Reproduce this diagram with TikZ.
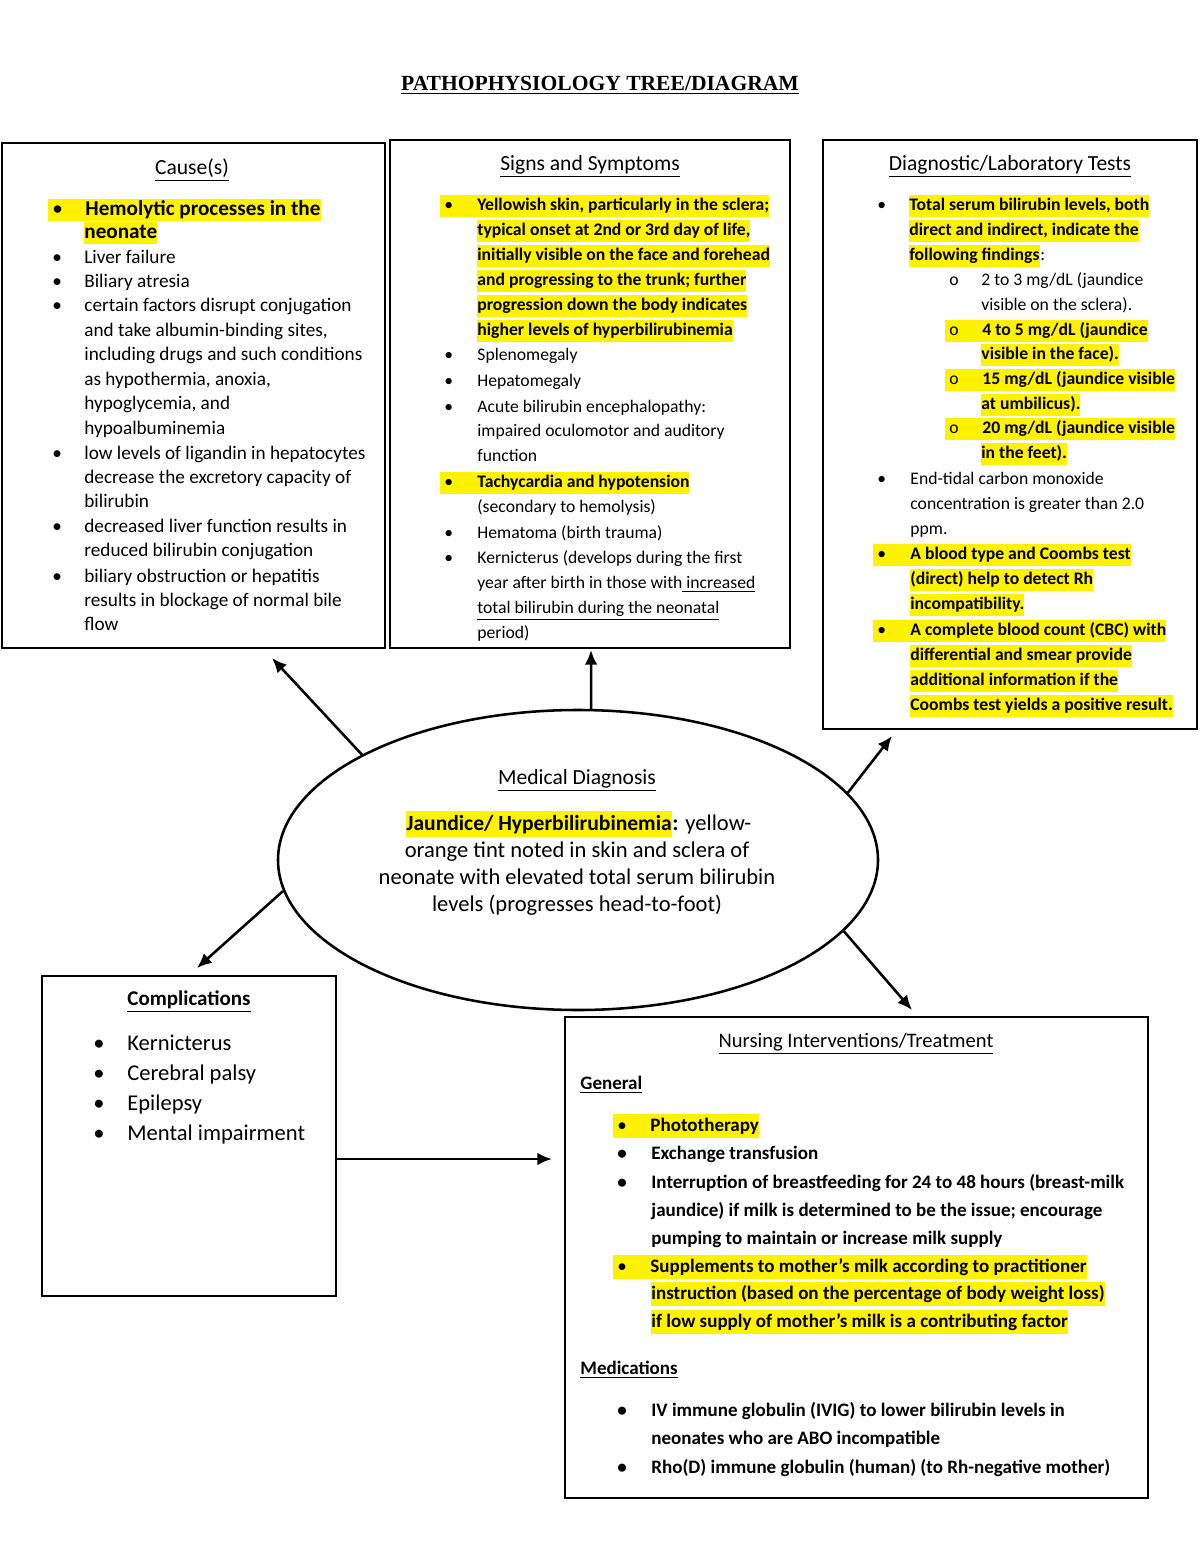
\documentclass[tikz,border=0pt]{standalone}
\usepackage{fontspec}
\setmainfont{Carlito}
\newfontfamily\titlefont{Liberation Serif}
\usetikzlibrary{arrows.meta, shapes.geometric, positioning, fit}

% bullet that sits inside a highlighted line
\newcommand{\hb}[1][\textbullet]{\makebox[18.9pt][l]{\hspace{2pt}\mdseries#1}}

\tikzset{
    box/.style={draw, line width=1.5pt, inner sep=0pt},
    arr/.style={-{Latex[length=7.5pt, width=6.5pt]}, line width=1.3pt},
    ln/.style={anchor=west, inner sep=0pt, text height=8pt, text depth=3pt, yshift=-1pt},
    hl/.style={ln, fill=yellow},
    mid/.style={ln, anchor=center},
    head/.style={font=\fontsize{11}{13}\selectfont, text height=8.5pt},
    causeTxt/.style={font=\fontsize{9.8}{12}\selectfont},
    causeB/.style={font=\fontsize{10.8}{12}\selectfont\bfseries, text height=8.3pt},
    signTxt/.style={font=\fontsize{9}{11}\selectfont},
    signB/.style={font=\fontsize{9}{11}\selectfont\bfseries},
    testTxt/.style={font=\fontsize{9}{11}\selectfont},
    testB/.style={font=\fontsize{9}{11}\selectfont\bfseries},
    diagTxt/.style={font=\fontsize{11.5}{14}\selectfont, text height=10pt, text depth=3.5pt},
    diagB/.style={font=\fontsize{11}{14}\selectfont\bfseries, text height=10pt, text depth=3.5pt},
    compTxt/.style={font=\fontsize{11.5}{14}\selectfont, text height=9pt},
    compB/.style={font=\fontsize{10.7}{13}\selectfont\bfseries, text height=8.5pt},
    careB/.style={font=\fontsize{9.7}{12}\selectfont\bfseries, text height=9pt, text depth=3.3pt},
    careH/.style={font=\fontsize{10.5}{13}\selectfont, text height=8.5pt}
}

\begin{document}
\begin{tikzpicture}[x=0.51pt, y=-0.51pt]
    % Page
    \path[use as bounding box, fill=white] (0,0) rectangle (1200,1553);

    % Title
    \node[font=\titlefont\bfseries\fontsize{11}{13}\selectfont, yshift=-1pt] (title) at (600,83) {\underline{PATHOPHYSIOLOGY TREE/DIAGRAM}};

    % Cause(s)
    \node[box, fit={(2,143) (385,648)}] (cause) {};
    \node[mid, head] (causeT) at (192,167) {\underline{Cause(s)}};
    \node[hl, causeB] (c208) at (48,208) {\hb Hemolytic processes in the};
    \node[hl, causeB] (c231) at (84,231) {neonate};
    \foreach \y/\t in {257/Liver failure, 281/Biliary atresia, 305/certain factors disrupt conjugation,
        330/{and take albumin-binding sites,}, 354/including drugs and such conditions,
        379/{as hypothermia, anoxia,}, 403/{hypoglycemia, and}, 428/hypoalbuminemia,
        453/low levels of ligandin in hepatocytes, 477/decrease the excretory capacity of, 501/bilirubin,
        526/decreased liver function results in, 550/reduced bilirubin conjugation,
        576/biliary obstruction or hepatitis, 600/results in blockage of normal bile, 624/flow}
        \node[ln, causeTxt] (c\y) at (84,\y) {\t};
    \foreach \y in {257,281,305,453,526,576}
        \node[ln, causeTxt] (cb\y) at (52,\y) {\textbullet};

    % Signs and Symptoms
    \node[box, fit={(390,140) (790,648)}] (sign) {};
    \node[mid, head] (signT) at (590,163) {\underline{Signs and Symptoms}};
    \node[hl, signB] (s204) at (440,204) {\hb Yellowish skin, particularly in the sclera;};
    \foreach \y/\t in {229/{typical onset at 2nd or 3rd day of life,}, 254/initially visible on the face and forehead,
        279/{and progressing to the trunk; further}, 304/progression down the body indicates,
        329/higher levels of hyperbilirubinemia}
        \node[hl, signB] (s\y) at (477,\y) {\t};
    \node[hl, signB] (s481) at (440,481) {\hb Tachycardia and hypotension};
    \foreach \y/\t in {354/Splenomegaly, 380/Hepatomegaly, 406/Acute bilirubin encephalopathy:,
        430/impaired oculomotor and auditory, 455/function, 506/(secondary to hemolysis),
        532/Hematoma (birth trauma), 557/Kernicterus (develops during the first,
        582/year after birth in those with\underline{\ increased},
        607/\underline{total bilirubin during the neonatal}, 632/period)}
        \node[ln, signTxt] (s\y) at (477,\y) {\t};
    \foreach \y in {354,380,406,532,557}
        \node[ln, signTxt] (sb\y) at (444,\y) {\textbullet};

    % Diagnostic/Laboratory Tests
    \node[box, fit={(823,140) (1197,729)}] (test) {};
    \node[mid, head] (testT) at (1010,163) {\underline{Diagnostic/Laboratory Tests}};
    \node[ln, testTxt] (tb204) at (877,204) {\textbullet};
    \foreach \y/\t in {204/{Total serum bilirubin levels, both}, 229/{direct and indirect, indicate the},
        254/following findings}
        \node[hl, testB] (t\y) at (909,\y) {\t};
    \node[ln, testTxt, right=0pt of t254, yshift=1pt] (t254c) {:};
    \node[ln, testTxt] (tb279) at (949,279) {o};
    \node[ln, testTxt] (t279) at (981,279) {2 to 3 mg/dL (jaundice};
    \node[ln, testTxt] (t304) at (981,304) {visible on the sclera).};
    \foreach \y/\t in {329/{4 to 5 mg/dL (jaundice}, 378/{15 mg/dL (jaundice visible},
        427/{20 mg/dL (jaundice visible}}
        \node[hl, testB] (t\y) at (945,\y) {\hb[o]\t};
    \foreach \y/\t in {353/visible in the face)., 403/at umbilicus)., 452/in the feet).}
        \node[hl, testB] (t\y) at (981,\y) {\t};
    \node[ln, testTxt] (tb478) at (877,478) {\textbullet};
    \foreach \y/\t in {478/End-tidal carbon monoxide, 503/concentration is greater than 2.0, 528/ppm.}
        \node[ln, testTxt] (t\y) at (910,\y) {\t};
    \node[hl, testB] (t553) at (873,553) {\hb A blood type and Coombs test};
    \node[hl, testB] (t629) at (873,629) {\hb A complete blood count (CBC) with};
    \foreach \y/\t in {578/(direct) help to detect Rh, 603/incompatibility., 654/differential and smear provide,
        679/additional information if the, 704/Coombs test yields a positive result.}
        \node[hl, testB] (t\y) at (910,\y) {\t};

    % Medical Diagnosis
    \node[draw, ellipse, line width=1.3pt, inner sep=0pt, minimum width=306pt, minimum height=153pt] (diag) at (578,860) {};
    \node[mid, head] (diagT) at (577,777) {\underline{Medical Diagnosis}};
    \node[hl, diagB] (diagH) at (406,822) {Jaundice/ Hyperbilirubinemia};
    \node[ln, diagTxt, right=0pt of diagH, yshift=1pt] (diagH2) {\textbf{:} yellow-};
    \foreach \y/\t in {849/orange tint noted in skin and sclera of, 876/neonate with elevated total serum bilirubin,
        903/levels (progresses head-to-foot)}
        \node[mid, diagTxt] (d\y) at (577,\y) {\t};

    % Complications
    \node[box, fit={(42,976) (336,1296)}] (comp) {};
    \node[mid, compB] (compT) at (189,998) {\underline{Complications}};
    \foreach \y/\t in {1043/Kernicterus, 1073/Cerebral palsy, 1103/Epilepsy, 1133/Mental impairment} {
        \node[ln, compTxt] (k\y) at (127,\y) {\t};
        \node[ln, compTxt] (kb\y) at (93,\y) {\textbullet};
    }

    % Nursing Interventions/Treatment
    \node[box, fit={(565,1017) (1148,1498)}] (care) {};
    \node[mid, careH] (careT) at (856,1040) {\underline{Nursing Interventions/Treatment}};
    \node[ln, careB] (gen) at (580,1082) {\underline{General}};
    \node[hl, careB] (n1124) at (613,1124) {\hb Phototherapy};
    \foreach \y/\t in {1152/Exchange transfusion, 1181/Interruption of breastfeeding for 24 to 48 hours (breast-milk,
        1209/{jaundice) if milk is determined to be the issue; encourage},
        1237/pumping to maintain or increase milk supply}
        \node[ln, careB] (n\y) at (651,\y) {\t};
    \node[hl, careB] (n1265) at (613,1265) {\hb Supplements to mother's milk according to practitioner};
    \foreach \y/\t in {1292/instruction (based on the percentage of body weight loss),
        1320/if low supply of mother's milk is a contributing factor}
        \node[hl, careB] (n\y) at (651,\y) {\t};
    \node[ln, careB] (med) at (580,1367) {\underline{Medications}};
    \foreach \y/\t in {1409/IV immune globulin (IVIG) to lower bilirubin levels in, 1437/neonates who are ABO incompatible,
        1466/Rho(D) immune globulin (human) (to Rh-negative mother)}
        \node[ln, careB] (n\y) at (651,\y) {\t};
    \foreach \y in {1152,1181,1409,1466}
        \node[ln, careB] (nb\y) at (617,\y) {\textbullet};

    % Arrows
    \coordinate (tCause) at (272,658);
    \coordinate (tSign) at (591,650);
    \coordinate (tTest) at (892,736);
    \coordinate (tComp) at (197,968);
    \coordinate (tCare) at (912,1010);
    \coordinate (tCare2) at (552,1159);
    \draw[arr] (diag.154.6) -- (tCause);
    \draw[arr] (diag.85) -- (tSign);
    \draw[arr] (diag.14.7) -- (tTest);
    \draw[arr] (diag.186.8) -- (tComp);
    \draw[arr] (diag.345.3) -- (tCare);
    \draw[arr] (comp.east |- tCare2) -- (tCare2);
\end{tikzpicture}
\end{document}
